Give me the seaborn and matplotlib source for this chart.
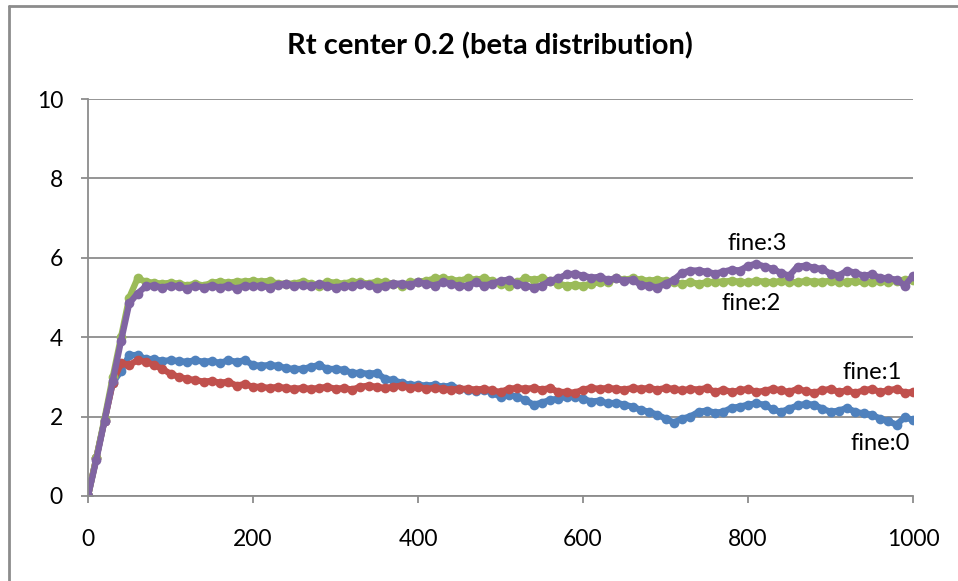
import numpy as np
import pandas as pd
import matplotlib
matplotlib.use('Agg')
import matplotlib.pyplot as plt
import seaborn as sns
from matplotlib.lines import Line2D

# step axis (every 10 steps)
steps = list(range(0, 1001, 10))

fine0 = [0, 0.95, 1.9, 2.85, 3.15, 3.55, 3.55, 3.45, 3.45, 3.4,
         3.42, 3.4, 3.38, 3.42, 3.38, 3.4, 3.35, 3.42, 3.38, 3.42,
         3.3, 3.28, 3.3, 3.28, 3.22, 3.2, 3.2, 3.25, 3.3, 3.2,
         3.2, 3.18, 3.1, 3.1, 3.08, 3.1, 2.95, 2.92, 2.85, 2.8,
         2.8, 2.78, 2.8, 2.75, 2.78, 2.7, 2.68, 2.65, 2.68, 2.6,
         2.5, 2.55, 2.5, 2.42, 2.3, 2.35, 2.42, 2.45, 2.5, 2.5,
         2.45, 2.38, 2.4, 2.33, 2.35, 2.3, 2.25, 2.17, 2.12, 2.05,
         1.95, 1.85, 1.95, 2.0, 2.12, 2.15, 2.1, 2.12, 2.22, 2.25,
         2.3, 2.33, 2.3, 2.18, 2.12, 2.2, 2.28, 2.32, 2.3, 2.2,
         2.12, 2.15, 2.22, 2.12, 2.08, 2.05, 1.95, 1.88, 1.8, 1.98,
         1.92]

fine1 = [0, 0.95, 1.9, 2.85, 3.35, 3.3, 3.42, 3.38, 3.3, 3.2,
         3.08, 3.0, 2.95, 2.92, 2.88, 2.9, 2.85, 2.88, 2.78, 2.82,
         2.75, 2.75, 2.72, 2.75, 2.72, 2.7, 2.72, 2.7, 2.72, 2.75,
         2.7, 2.72, 2.68, 2.75, 2.78, 2.75, 2.72, 2.75, 2.78, 2.72,
         2.75, 2.7, 2.72, 2.7, 2.68, 2.7, 2.7, 2.68, 2.7, 2.66,
         2.62, 2.7, 2.72, 2.7, 2.72, 2.68, 2.72, 2.62, 2.62, 2.6,
         2.68, 2.72, 2.7, 2.72, 2.7, 2.68, 2.72, 2.7, 2.72, 2.68,
         2.72, 2.7, 2.66, 2.7, 2.68, 2.72, 2.62, 2.68, 2.62, 2.66,
         2.7, 2.62, 2.65, 2.7, 2.66, 2.62, 2.7, 2.64, 2.6, 2.66,
         2.7, 2.62, 2.66, 2.6, 2.66, 2.7, 2.62, 2.66, 2.7, 2.6,
         2.62]

fine2 = [0, 0.95, 1.95, 3.0, 4.0, 5.0, 5.48, 5.4, 5.37, 5.35,
         5.37, 5.35, 5.3, 5.35, 5.3, 5.37, 5.4, 5.37, 5.4, 5.4,
         5.42, 5.4, 5.42, 5.35, 5.35, 5.35, 5.4, 5.35, 5.3, 5.4,
         5.37, 5.35, 5.4, 5.38, 5.35, 5.4, 5.38, 5.35, 5.3, 5.38,
         5.4, 5.42, 5.48, 5.48, 5.45, 5.42, 5.48, 5.45, 5.48, 5.42,
         5.35, 5.3, 5.38, 5.48, 5.45, 5.48, 5.42, 5.35, 5.3, 5.32,
         5.3, 5.35, 5.38, 5.4, 5.48, 5.45, 5.48, 5.45, 5.42, 5.45,
         5.42, 5.38, 5.35, 5.38, 5.35, 5.38, 5.4, 5.4, 5.42, 5.4,
         5.38, 5.42, 5.4, 5.38, 5.42, 5.4, 5.38, 5.42, 5.4, 5.4,
         5.42, 5.38, 5.4, 5.42, 5.38, 5.4, 5.42, 5.4, 5.42, 5.45,
         5.45]

fine3 = [0, 0.9, 1.9, 2.9, 3.9, 4.85, 5.1, 5.28, 5.3, 5.25,
         5.3, 5.28, 5.22, 5.3, 5.25, 5.3, 5.25, 5.3, 5.22, 5.3,
         5.28, 5.3, 5.25, 5.32, 5.35, 5.3, 5.32, 5.28, 5.35, 5.3,
         5.25, 5.3, 5.28, 5.35, 5.32, 5.25, 5.3, 5.35, 5.35, 5.32,
         5.38, 5.35, 5.3, 5.38, 5.35, 5.28, 5.3, 5.38, 5.3, 5.35,
         5.42, 5.45, 5.35, 5.3, 5.25, 5.3, 5.42, 5.48, 5.58, 5.6,
         5.55, 5.5, 5.52, 5.45, 5.48, 5.42, 5.45, 5.32, 5.3, 5.25,
         5.35, 5.45, 5.62, 5.68, 5.68, 5.65, 5.6, 5.65, 5.7, 5.68,
         5.8, 5.85, 5.78, 5.72, 5.62, 5.55, 5.78, 5.8, 5.75, 5.72,
         5.6, 5.55, 5.68, 5.62, 5.55, 5.58, 5.5, 5.48, 5.45, 5.3,
         5.55]

series_names = ['fine:0', 'fine:1', 'fine:2', 'fine:3']
colors = ['#4F81BD', '#C0504D', '#9BBB59', '#8064A2']

df = pd.DataFrame({
    'step': steps * 4,
    'rt': fine0 + fine1 + fine2 + fine3,
    'fine': np.repeat(series_names, len(steps)),
})

sns.set_style('white')
plt.rcParams['font.family'] = ['Lato', 'DejaVu Sans']

fig = plt.figure(figsize=(9.58, 5.81), dpi=100)
ax = fig.add_axes([88 / 958, 1 - 496 / 581, 825 / 958, 397 / 581])

sns.lineplot(data=df, x='step', y='rt', hue='fine', palette=colors,
             linewidth=4.5, marker='o', markersize=7, markeredgewidth=0,
             legend=False, ax=ax)

ax.set_xlim(0, 1000)
ax.set_ylim(0, 10)
ax.set_xticks(range(0, 1001, 200))
ax.set_yticks(range(0, 11, 2))
ax.set_xlabel('')
ax.set_ylabel('')
ax.grid(axis='y', color='#8c8c8c', linewidth=1.3)
ax.grid(axis='x', visible=False)
ax.set_axisbelow(True)
for side in ['top', 'right']:
    ax.spines[side].set_visible(False)
for side in ['left', 'bottom']:
    ax.spines[side].set_color('#8c8c8c')
    ax.spines[side].set_linewidth(1.3)
ax.tick_params(axis='both', which='major', labelsize=16.5, color='#8c8c8c',
               labelcolor='black', length=5, width=1.3, direction='out',
               left=True, bottom=True)
ax.tick_params(axis='x', pad=19)
ax.tick_params(axis='y', pad=13)

# series labels
ax.text(811, 6.37, 'fine:3', fontsize=17, ha='center', va='center', color='black')
ax.text(804, 4.86, 'fine:2', fontsize=17, ha='center', va='center', color='black')
ax.text(951, 3.12, 'fine:1', fontsize=17, ha='center', va='center', color='black')
ax.text(960, 1.33, 'fine:0', fontsize=17, ha='center', va='center', color='black')

fig.text(490 / 958, 1 - 46 / 581, 'Rt center 0.2 (beta distribution)',
         fontsize=21, fontweight='bold', ha='center', va='center', color='black')

# chart border (only top and left edges show in the crop)
bx, by = 9 / 958, 1 - 6 / 581
fig.add_artist(Line2D([bx, 1.0], [by, by], transform=fig.transFigure,
                      color='#8c8c8c', linewidth=2))
fig.add_artist(Line2D([bx, bx], [by, 0.0], transform=fig.transFigure,
                      color='#8c8c8c', linewidth=2))

fig.savefig('out.png', dpi=100)
